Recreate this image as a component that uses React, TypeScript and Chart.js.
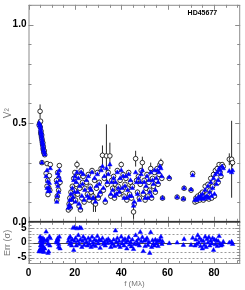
import React, { useEffect, useRef } from 'react';
import { Chart, registerables } from 'chart.js';

Chart.register(...registerables);

// ---- data ----
const freq = [
  4.6, 4.8, 5.0, 5.1, 5.2, 5.3, 5.4, 5.5, 5.6, 5.7, 5.8, 5.9, 6.0, 6.1, 6.2, 6.3, 6.4, 6.5, 6.6, 6.8, 7.0, 5.8,
  7.6, 8.0, 8.3, 9.0, 8.7, 8.4, 9.4, 8.0, 9.2,
  13.3, 12.6, 13.0, 12.1, 12.7, 13.0, 12.2, 13.6, 12.4,
  17.2, 17.5, 17.8, 18.0, 18.3, 18.6, 18.9, 19.2, 19.5, 19.8, 20.0, 20.3, 20.6, 20.9, 21.2, 21.5, 21.8, 22.1, 22.4, 22.7, 23.0, 23.3, 23.6, 24.0, 24.3,
  25.0, 25.4, 25.8, 26.2, 26.6, 27.0, 27.4, 27.8, 28.0, 28.5, 28.9, 29.3, 29.7, 30.1, 30.5, 30.9, 31.3, 31.9, 32.3, 32.7, 33.1, 33.6, 34.0, 34.4, 35.1, 35.5, 35.9,
  36.3, 36.7, 37.1, 37.5, 37.9, 38.3, 38.7, 39.1, 39.5, 40.0, 40.4, 40.8, 41.2, 41.6, 42.0, 42.4, 42.8, 43.2, 43.6, 44.0, 44.4, 44.8, 45.3, 45.6, 46.2, 46.6,
  47.0, 47.4, 47.8, 48.2, 48.6, 49.1, 49.5, 49.9, 50.3, 50.7, 51.1, 51.5, 51.9, 52.3, 52.7, 53.1, 53.5, 53.9, 54.3, 54.7, 55.1, 55.5, 55.9, 56.3, 56.7, 57.1, 57.5, 57.8,
  60.7, 64.1, 66.8, 67.1, 70.1, 70.8,
  71.8, 72.2, 72.6, 73.0, 73.4, 73.8, 74.2, 74.6, 75.0, 75.4, 75.8, 76.2, 76.6, 77.0, 77.4, 77.8, 78.2, 78.6, 79.0, 79.4, 79.8, 80.2, 80.6, 81.0, 81.4, 81.8, 82.2, 82.6, 83.0, 83.5, 84.0,
  86.6, 87.6, 88.0,
];

const v2Obs = [
  0.49, 0.50, 0.56, 0.48, 0.51, 0.45, 0.46, 0.44, 0.43, 0.44, 0.42, 0.41, 0.40, 0.39, 0.40, 0.37, 0.38, 0.36, 0.35, 0.36, 0.34, 0.30,
  0.245, 0.295, 0.21, 0.234, 0.174, 0.138, 0.29, 0.18, 0.16,
  0.285, 0.25, 0.22, 0.21, 0.19, 0.16, 0.11, 0.20, 0.13,
  0.06, 0.09, 0.12, 0.07, 0.15, 0.10, 0.18, 0.13, 0.22, 0.16, 0.25, 0.11, 0.19, 0.29, 0.14, 0.23, 0.08, 0.17, 0.06, 0.26, 0.12, 0.20, 0.23, 0.10, 0.17,
  0.20, 0.14, 0.24, 0.11, 0.18, 0.15, 0.26, 0.13, 0.10, 0.21, 0.09, 0.17, 0.25, 0.12, 0.20, 0.14, 0.27, 0.337, 0.16, 0.22, 0.10, 0.334, 0.19, 0.25, 0.334, 0.13, 0.21,
  0.17, 0.23, 0.12, 0.19, 0.15, 0.26, 0.18, 0.14, 0.21, 0.29, 0.16, 0.24, 0.13, 0.19, 0.22, 0.11, 0.17, 0.25, 0.14, 0.20, 0.12, 0.18, 0.05, 0.09, 0.32, 0.21,
  0.15, 0.23, 0.12, 0.19, 0.26, 0.30, 0.14, 0.21, 0.11, 0.17, 0.24, 0.13, 0.20, 0.16, 0.27, 0.12, 0.22, 0.18, 0.25, 0.15, 0.21, 0.27, 0.19, 0.24, 0.29, 0.30, 0.22, 0.12,
  0.22, 0.125, 0.116, 0.17, 0.16, 0.245,
  0.10, 0.12, 0.105, 0.13, 0.12, 0.11, 0.14, 0.125, 0.15, 0.11, 0.13, 0.18, 0.12, 0.14, 0.19, 0.115, 0.16, 0.22, 0.12, 0.18, 0.24, 0.13, 0.26, 0.20, 0.27, 0.20, 0.29, 0.25, 0.23, 0.29, 0.28,
  0.317, 0.317, 0.30,
];

const v2Err = [
  0.01, 0.01, 0.035, 0.01, 0.012, 0.01, 0.01, 0.01, 0.01, 0.01, 0.01, 0.01, 0.01, 0.01, 0.01, 0.01, 0.01, 0.01, 0.01, 0.01, 0.01, 0.01,
  0.01, 0.01, 0.01, 0.01, 0.01, 0.01, 0.01, 0.01, 0.01,
  0.01, 0.01, 0.01, 0.01, 0.01, 0.01, 0.01, 0.01, 0.01,
  0.012, 0.012, 0.012, 0.012, 0.012, 0.012, 0.012, 0.012, 0.012, 0.012, 0.012, 0.012, 0.012, 0.02, 0.012, 0.012, 0.012, 0.012, 0.012, 0.012, 0.012, 0.012, 0.012, 0.012, 0.012,
  0.012, 0.012, 0.012, 0.012, 0.012, 0.012, 0.012, 0.012, 0.05, 0.012, 0.04, 0.012, 0.012, 0.012, 0.012, 0.012, 0.012, 0.05, 0.012, 0.012, 0.012, 0.16, 0.012, 0.012, 0.067, 0.012, 0.012,
  0.012, 0.012, 0.012, 0.012, 0.012, 0.012, 0.012, 0.012, 0.012, 0.015, 0.012, 0.012, 0.012, 0.012, 0.012, 0.012, 0.012, 0.012, 0.012, 0.012, 0.012, 0.012, 0.04, 0.012, 0.04, 0.012,
  0.012, 0.012, 0.012, 0.012, 0.012, 0.03, 0.012, 0.012, 0.012, 0.012, 0.012, 0.012, 0.012, 0.012, 0.03, 0.012, 0.012, 0.012, 0.012, 0.012, 0.012, 0.012, 0.012, 0.012, 0.012, 0.02, 0.012, 0.012,
  0.008, 0.008, 0.008, 0.008, 0.008, 0.008,
  0.01, 0.01, 0.01, 0.01, 0.01, 0.01, 0.01, 0.01, 0.01, 0.01, 0.01, 0.01, 0.01, 0.01, 0.01, 0.01, 0.01, 0.01, 0.01, 0.01, 0.01, 0.01, 0.01, 0.01, 0.01, 0.01, 0.01, 0.01, 0.01, 0.01, 0.01,
  0.03, 0.195, 0.02,
];

const v2Model = [
  0.50, 0.49, 0.49, 0.48, 0.47, 0.46, 0.45, 0.45, 0.44, 0.43, 0.42, 0.41, 0.40, 0.40, 0.39, 0.38, 0.37, 0.36, 0.36, 0.35, 0.34, 0.30,
  0.23, 0.26, 0.204, 0.196, 0.172, 0.154, 0.27, 0.17, 0.155,
  0.26, 0.245, 0.23, 0.20, 0.18, 0.15, 0.10, 0.21, 0.13,
  0.07, 0.085, 0.11, 0.075, 0.14, 0.11, 0.17, 0.125, 0.21, 0.15, 0.23, 0.10, 0.20, 0.25, 0.15, 0.22, 0.09, 0.18, 0.07, 0.25, 0.13, 0.19, 0.24, 0.11, 0.16,
  0.21, 0.13, 0.23, 0.12, 0.17, 0.16, 0.25, 0.12, 0.12, 0.22, 0.10, 0.18, 0.24, 0.13, 0.19, 0.15, 0.26, 0.28, 0.17, 0.23, 0.11, 0.27, 0.20, 0.24, 0.29, 0.14, 0.20,
  0.16, 0.22, 0.13, 0.20, 0.14, 0.25, 0.17, 0.15, 0.22, 0.26, 0.17, 0.23, 0.12, 0.18, 0.23, 0.12, 0.16, 0.24, 0.13, 0.21, 0.13, 0.17, 0.08, 0.10, 0.25, 0.20,
  0.14, 0.22, 0.11, 0.20, 0.24, 0.26, 0.15, 0.20, 0.12, 0.18, 0.23, 0.12, 0.21, 0.15, 0.25, 0.13, 0.21, 0.19, 0.26, 0.16, 0.22, 0.26, 0.20, 0.25, 0.28, 0.27, 0.23, 0.12,
  0.225, 0.124, 0.116, 0.17, 0.163, 0.235,
  0.11, 0.115, 0.11, 0.12, 0.125, 0.115, 0.13, 0.12, 0.14, 0.115, 0.12, 0.16, 0.125, 0.13, 0.18, 0.12, 0.15, 0.20, 0.13, 0.17, 0.22, 0.14, 0.24, 0.19, 0.25, 0.21, 0.27, 0.26, 0.24, 0.28, 0.27,
  0.257, 0.25, 0.26,
];

const errSigma = [
  -3.0, -2.5, 2.0, 0.5, -1.0, -2.0, 1.5, -0.5, -3.0, 1.0, 0.5, -2.0, -1.0, 0.0, 1.5, -2.5, 0.5, -1.5, -3.2, 1.0, -2.0, 0.0,
  3.7, 1.0, -0.5, 2.0, -3.0, -3.5, 1.5, 0.5, -1.0,
  2.0, 1.5, -0.5, 0.5, 1.0, -1.5, 0.0, -2.0, 0.8,
  0.5, 1.5, -0.5, 2.0, 0.0, -1.0, 1.0, 5.0, -2.5, 0.5, 5.2, 1.5, -1.0, 4.8, 0.5, 2.5, -0.5, 5.1, 1.0, 4.9, -1.5, 0.5, 2.0, -0.8, 1.2,
  0.3, -1.0, 1.5, -0.5, 0.8, -1.5, 2.0, 0.0, -0.8, 1.0, -1.2, 0.5, 2.2, -0.3, 1.0, -1.8, 0.7, 1.5, -0.5, 0.2, -1.0, 0.8, -0.2, 1.2, 0.5, -1.5, 0.0,
  -0.5, 1.0, -1.2, 4.1, 0.3, 1.5, -0.8, 0.5, -1.5, 2.0, -0.3, 0.8, -1.0, 1.2, 0.0, -2.0, 0.6, 1.8, -0.7, 0.2, -1.3, 1.0, -2.2, -0.5, 2.5, 0.4,
  -0.6, 1.2, -1.0, 3.6, 0.4, 1.8, -2.9, 0.6, -1.2, 0.9, 1.5, -0.8, 0.2, -3.5, 3.5, -1.5, 0.8, -0.4, -1.0, 1.0, -0.3, 0.6, -1.2, 0.5, 1.0, 2.0, -0.5, 0.4,
  -0.2, 0.0, -0.8, 1.2, -0.8, 1.6,
  -1.0, 1.0, -0.5, 2.5, 0.0, 1.5, -1.2, 0.8, -2.0, 0.5, -0.8, 2.0, -1.5, 1.2, 0.0, 1.8, -1.0, 0.6, -0.3, 1.5, -2.5, 1.0, -0.6, 0.8, -1.2, 0.5, 2.2, -0.4, -1.0, -0.7, 0.3,
  0.0, 0.3, -0.5,
];

const xTicks = [0, 20, 40, 60, 80];
const v2Ticks = [0, 0.5, 1.0];
const errTicks = [-5, 0, 5];
const errRefLines = [-5, -3, 3, 5];
const starName = 'HD45677';

const FONT = "'Liberation Sans', Arial, Helvetica, sans-serif";
const BLUE = '#0000ff';
const FRAME = '#8c8c8c';

function line(ctx: CanvasRenderingContext2D, x1: number, y1: number, x2: number, y2: number) {
  ctx.beginPath();
  ctx.moveTo(x1, y1);
  ctx.lineTo(x2, y2);
  ctx.stroke();
}

const panelPlugin = {
  id: 'panelPlugin',
  beforeDatasetsDraw(chart: any) {
    const { ctx } = chart;
    const xs = chart.scales.x;
    const ys = chart.scales.y;
    const ys2 = chart.scales.y2;
    ctx.save();
    ctx.lineWidth = 1;
    ctx.strokeStyle = '#9a9a9a';
    ctx.setLineDash([2, 2]);
    for (const v of errRefLines) {
      const py = Math.round(ys2.getPixelForValue(v)) + 0.5;
      line(ctx, xs.left, py, xs.right, py);
    }
    ctx.setLineDash([]);
    ctx.strokeStyle = '#444';
    const pz = Math.round(ys2.getPixelForValue(0)) + 0.5;
    line(ctx, xs.left, pz, xs.right, pz);
    ctx.strokeStyle = '#111';
    ctx.lineWidth = 0.9;
    for (let i = 0; i < freq.length; i++) {
      const px = xs.getPixelForValue(freq[i]);
      const y1 = ys.getPixelForValue(v2Obs[i] - v2Err[i]);
      const y2 = ys.getPixelForValue(v2Obs[i] + v2Err[i]);
      line(ctx, px, y1, px, y2);
    }
    ctx.restore();
  },
  afterDraw(chart: any) {
    const { ctx } = chart;
    const xs = chart.scales.x;
    const ys = chart.scales.y;
    const ys2 = chart.scales.y2;
    ctx.save();
    ctx.strokeStyle = FRAME;
    ctx.lineWidth = 1;
    const L = xs.left, R = xs.right;
    const panels = [
      { top: ys.top, bottom: ys.bottom },
      { top: ys2.top, bottom: ys2.bottom },
    ];
    for (const p of panels) {
      ctx.strokeRect(L + 0.5, p.top + 0.5, R - L - 1, p.bottom - p.top - 1);
      for (let k = 0; k * 5 <= xs.max; k++) {
        const v = k * 5;
        const len = v % 20 === 0 ? 5 : 3;
        const px = Math.round(xs.getPixelForValue(v)) + 0.5;
        line(ctx, px, p.top, px, p.top + len);
        line(ctx, px, p.bottom, px, p.bottom - len);
      }
    }
    for (let k = 0; k <= 11; k++) {
      const len = k % 5 === 0 ? 5 : 3;
      const py = Math.round(ys.getPixelForValue(k / 10)) + 0.5;
      line(ctx, L, py, L + len, py);
      line(ctx, R, py, R - len, py);
    }
    for (let k = -7; k <= 7; k++) {
      const len = k % 5 === 0 ? 5 : 3;
      const py = Math.round(ys2.getPixelForValue(k)) + 0.5;
      line(ctx, L, py, L + len, py);
      line(ctx, R, py, R - len, py);
    }
    ctx.strokeStyle = '#333';
    ctx.lineWidth = 1.5;
    line(ctx, L, ys.bottom, R, ys.bottom);
    ctx.fillStyle = '#000';
    ctx.font = `bold 7px ${FONT}`;
    ctx.textAlign = 'center';
    ctx.textBaseline = 'middle';
    ctx.fillText(starName, xs.getPixelForValue(75), ys.getPixelForValue(1.056));
    ctx.restore();
  },
};

export default function App() {
  const ref = useRef<HTMLCanvasElement>(null);
  useEffect(() => {
    if (!ref.current) return;
    const obsPts = freq.map((f, i) => ({ x: f, y: v2Obs[i] }));
    const modelPts = freq.map((f, i) => ({ x: f, y: v2Model[i] }));
    const residPts = freq.map((f, i) => ({ x: f, y: errSigma[i] }));
    const tickFont = { family: FONT, size: 10, weight: 'bold' as const };
    const chart = new Chart(ref.current, {
      type: 'scatter',
      data: {
        datasets: [
          {
            label: 'model',
            data: modelPts,
            yAxisID: 'y',
            pointStyle: 'triangle',
            pointRadius: 2.6,
            backgroundColor: BLUE,
            borderColor: BLUE,
            borderWidth: 0.5,
            order: 1,
          },
          {
            label: 'observed',
            data: obsPts,
            yAxisID: 'y',
            pointStyle: 'circle',
            pointRadius: 2.3,
            backgroundColor: '#ffffff',
            borderColor: '#000000',
            borderWidth: 0.8,
            order: 2,
          },
          {
            label: 'residual',
            data: residPts,
            yAxisID: 'y2',
            pointStyle: 'triangle',
            pointRadius: 2.6,
            backgroundColor: BLUE,
            borderColor: BLUE,
            borderWidth: 0.5,
            order: 1,
          },
        ],
      },
      options: {
        responsive: false,
        animation: false,
        devicePixelRatio: 1,
        events: [],
        layout: { padding: { left: 0, right: 3.5, top: 0, bottom: 0 } },
        plugins: { legend: { display: false }, tooltip: { enabled: false } },
        scales: {
          x: {
            type: 'linear',
            position: 'bottom',
            min: 0,
            max: 91.3,
            grid: { display: false, drawTicks: false },
            border: { display: false },
            ticks: { color: '#000', font: tickFont, padding: 3, autoSkip: false, maxRotation: 0 },
            afterBuildTicks: (s: any) => { s.ticks = xTicks.map((v) => ({ value: v })); },
            afterFit: (s: any) => { s.height = 26; s.paddingLeft = 0; s.paddingRight = 0; },
            title: { display: true, text: 'f (Mλ)', color: '#777', font: { family: FONT, size: 8 }, padding: { top: 0, bottom: 1 } },
          },
          y: {
            type: 'linear',
            position: 'left',
            stack: 'panels',
            stackWeight: 5.14,
            weight: 2,
            min: 0,
            max: 1.1,
            grid: { display: false, drawTicks: false },
            border: { display: false },
            ticks: { color: '#000', font: tickFont, padding: 2, autoSkip: false, callback: (v: any) => Number(v).toFixed(1) },
            afterBuildTicks: (s: any) => { s.ticks = v2Ticks.map((v) => ({ value: v })); },
            afterFit: (s: any) => { s.width = 28.5; s.paddingTop = 0; s.paddingBottom = 0; },
            title: { display: true, text: 'V²', color: '#777', font: { family: FONT, size: 10 }, padding: { top: 2, bottom: 0 } },
          },
          y2: {
            type: 'linear',
            position: 'left',
            stack: 'panels',
            stackWeight: 1,
            weight: 1,
            min: -7.2,
            max: 7.1,
            grid: { display: false, drawTicks: false },
            border: { display: false },
            ticks: { color: '#000', font: tickFont, padding: 2, autoSkip: false, callback: (v: any) => String(v) },
            afterBuildTicks: (s: any) => { s.ticks = errTicks.map((v) => ({ value: v })); },
            afterFit: (s: any) => { s.width = 28.5; s.paddingTop = 0; s.paddingBottom = 0; },
            title: { display: true, text: 'Err (σ)', color: '#777', font: { family: FONT, size: 9 }, padding: { top: 2, bottom: 0 } },
          },
        },
      } as any,
      plugins: [panelPlugin],
    });
    return () => chart.destroy();
  }, []);
  return (
    <div style={{ position: 'absolute', left: 0, top: 0, width: 245, height: 290, background: '#fff' }}>
      <canvas ref={ref} width={245} height={290} style={{ display: 'block', width: 245, height: 290 }} />
    </div>
  );
}
